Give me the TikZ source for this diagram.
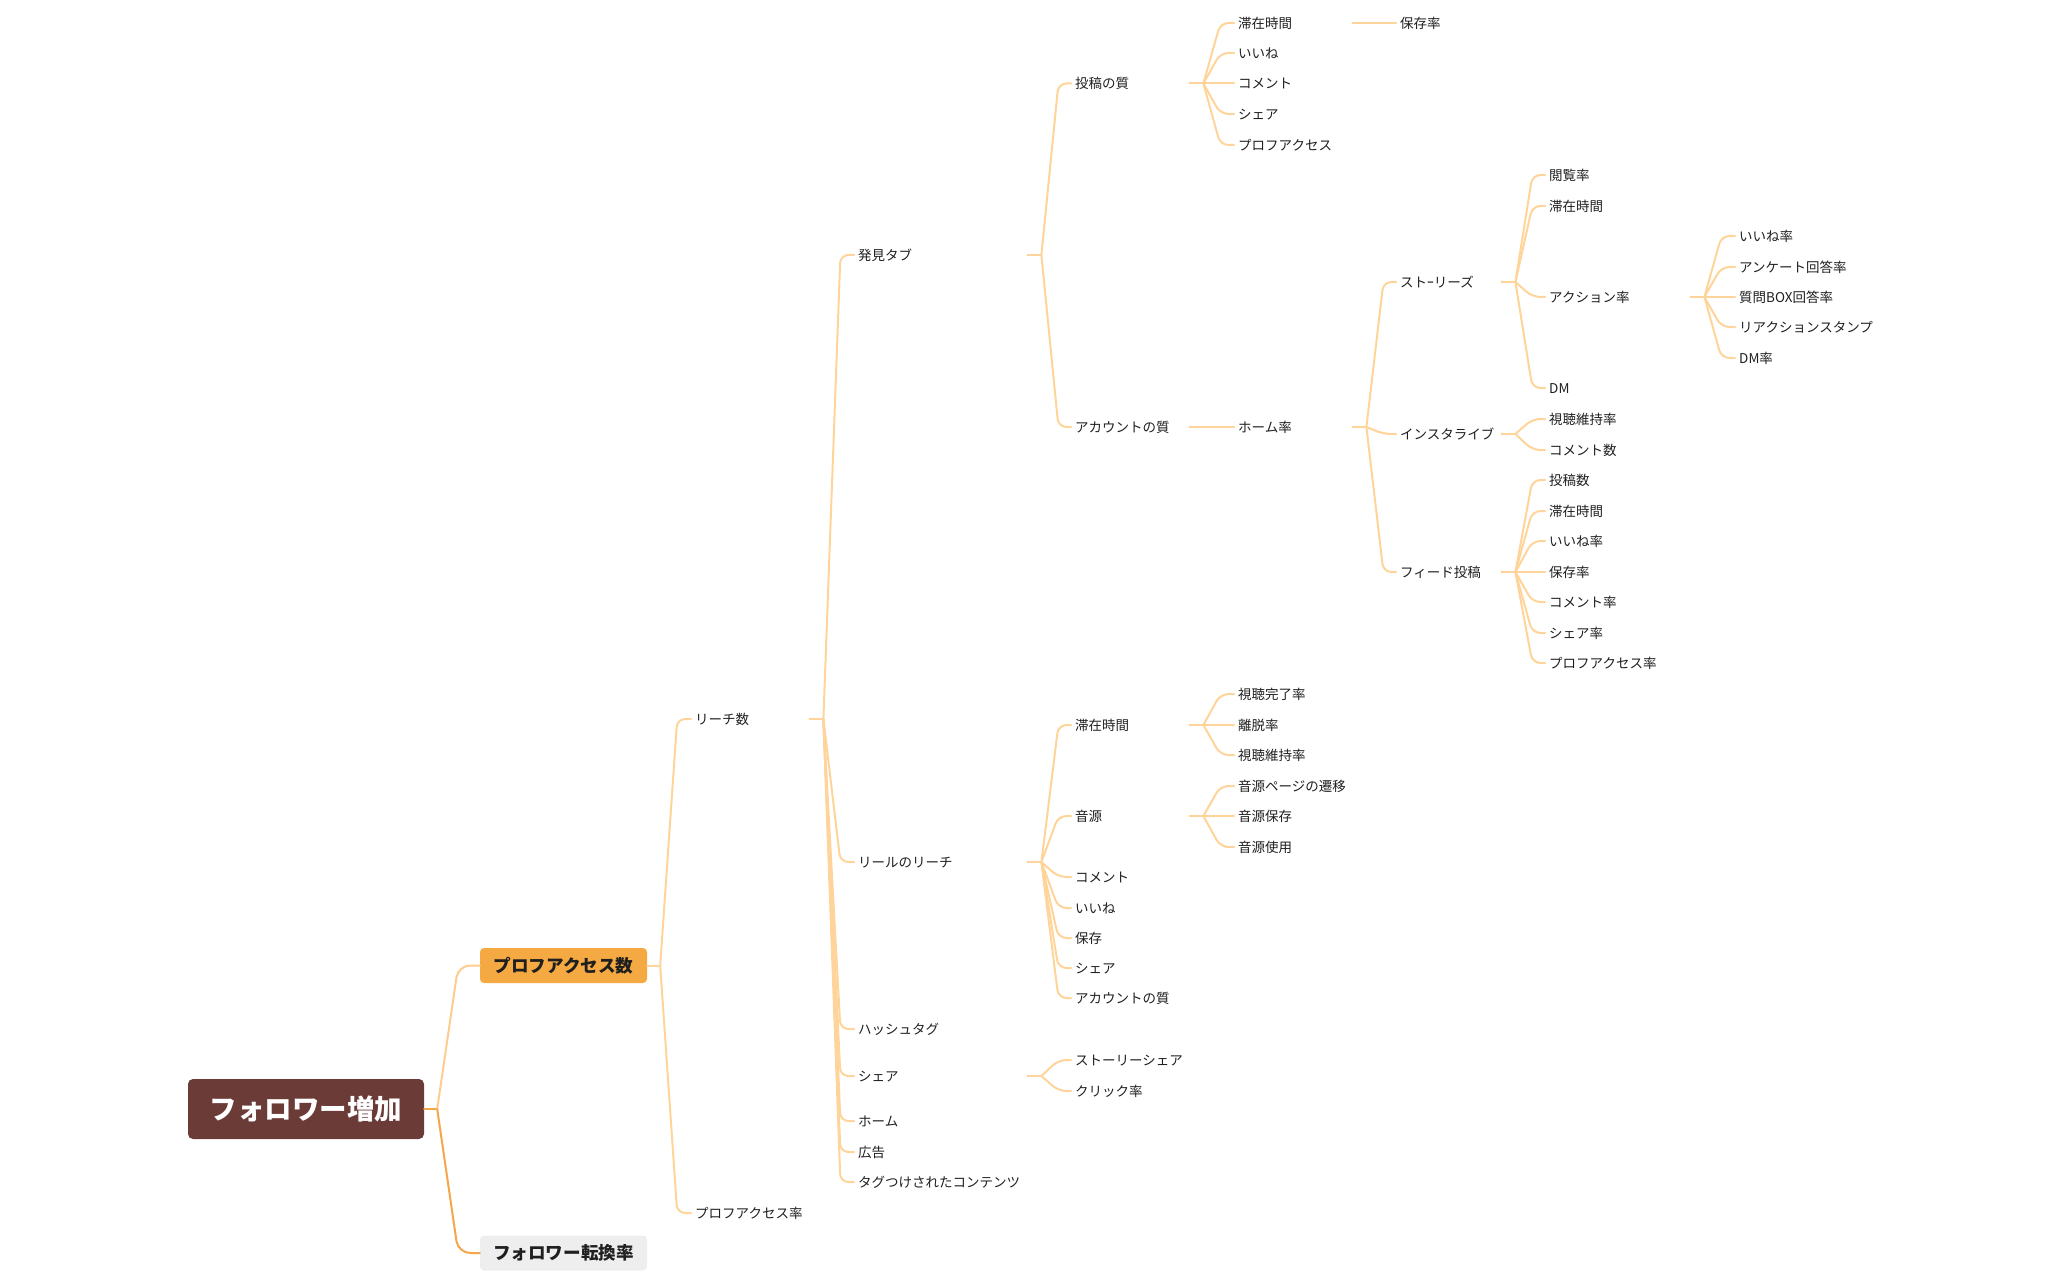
\documentclass[tikz,border=0pt]{standalone}
\usepackage{fontspec}
\setmainfont{Noto Sans CJK JP}
\usetikzlibrary{calc}

\definecolor{rootbrown}{HTML}{6B3B37}
\definecolor{accessorange}{HTML}{F5A942}
\definecolor{convgray}{HTML}{EEEEEE}
\definecolor{linkpeach}{HTML}{FFD49A}
\definecolor{peachsoft}{HTML}{FFCC8F}
\definecolor{rootorange}{HTML}{F6A54A}
\definecolor{inkgray}{HTML}{1F1F1F}

\newcommand\leaffont{\fontsize{13.5}{16}\selectfont}
\newcommand\topfont{\fontsize{17.6}{20}\selectfont\bfseries}
\newcommand\rootfont{\fontsize{27.5}{32}\selectfont\bfseries}

% stub out of a node, then a twig from the stub end to a child
\newcommand\stub[1]{\draw[link] (#1.east) -- ++(14,0) coordinate (#1-b);}
\newcommand\twig[3][17]{\draw[link] (#2) -- ($(#2 |- #3.west)+(#1,0)$) -- (#3.west);}

\tikzset{
  link/.style={draw=linkpeach,line width=2pt,rounded corners=8pt,line cap=round},
  leaf/.style={anchor=west,inner xsep=4pt,inner ysep=0pt,text height=11.9pt,
    text depth=1.6pt,font=\leaffont,text=inkgray},
  lv2/.style={leaf,text width=110pt,align=left},
  lv3/.style={leaf,text width=165pt,align=left},
  lv4/.style={leaf,text width=110pt,align=left},
  lv5/.style={leaf,text width=110pt,align=left},
  lv6/.style={leaf,text width=97pt,align=left},
  lv7/.style={leaf,text width=137pt,align=left},
  lv8/.style={leaf},
  topbox/.style={rounded corners=4pt,minimum width=167pt,minimum height=35pt,
    inner sep=0pt,text height=15.5pt,text depth=2.1pt,font=\topfont,text=inkgray},
  rootbox/.style={fill=rootbrown,text=white,rounded corners=5pt,minimum width=236pt,
    minimum height=60pt,inner sep=0pt,text height=24.2pt,text depth=3.3pt,font=\rootfont}
}

\begin{document}
\begin{tikzpicture}[x=1pt,y=-1pt]
\useasboundingbox (0,0) rectangle (2069,1281);

% main boxes
\node[rootbox] (goal) at (306,1109) {フォロワー増加};
\node[topbox,fill=accessorange] (access) at (563.5,965.5) {プロフアクセス数};
\node[topbox,fill=convgray] (conv) at (563.5,1253) {フォロワー転換率};
\draw[link,draw=rootorange] (goal.east) -- ++(13,0) coordinate (goal-b);
\draw[link,draw=peachsoft,rounded corners=12pt] (goal-b) -- ($(goal-b |- access.west)+(21,0)$) -- (access.west);
\draw[link,draw=rootorange,rounded corners=12pt] (goal-b) -- ($(goal-b |- conv.west)+(21,0)$) -- (conv.west);

% level 2
\draw[link] (access.east) -- ++(13,0) coordinate (access-b);
\foreach \n/\t/\y in {reach/リーチ数/719, prate/プロフアクセス率/1213}
  {\node[lv2] (\n) at (691,\y) {\t}; \twig{access-b}{\n}}

% level 3
\stub{reach}
\foreach \n/\t/\y in {disc/発見タブ/255, reel/リールのリーチ/862, hash/ハッシュタグ/1029,
  share/シェア/1076, home/ホーム/1121, ad/広告/1152, tagged/タグつけされたコンテンツ/1182}
  {\node[lv3] (\n) at (854,\y) {\t}; \twig{reach-b}{\n}}

% level 4
\stub{disc}
\foreach \n/\t/\y in {post/投稿の質/83.5, acct/アカウントの質/427}
  {\node[lv4] (\n) at (1071,\y) {\t}; \twig{disc-b}{\n}}
\stub{reel}
\foreach \n/\t/\y in {rstay/滞在時間/725, sound/音源/816, rcom/コメント/877, rlike/いいね/908,
  rsave/保存/938, rshare/シェア/968, racct/アカウントの質/998}
  {\node[lv4] (\n) at (1071,\y) {\t}; \twig{reel-b}{\n}}
\stub{share}
\foreach \n/\t/\y in {sshare/ストーリーシェア/1060, click/クリック率/1091}
  {\node[lv4] (\n) at (1071,\y) {\t}; \twig{share-b}{\n}}

% level 5
\stub{post}
\foreach \n/\t/\y in {pstay/滞在時間/23, plike/いいね/53, pcom/コメント/83.5,
  pshare/シェア/114, pprof/プロフアクセス/145}
  {\node[lv5] (\n) at (1234,\y) {\t}; \twig{post-b}{\n}}
\node[lv5] (homer) at (1234,427) {ホーム率};
\draw[link] (acct.east) -- (homer.west);
\stub{rstay}
\foreach \n/\t/\y in {comp/視聴完了率/694, leave/離脱率/725, keep/視聴維持率/755}
  {\node[lv5] (\n) at (1234,\y) {\t}; \twig{rstay-b}{\n}}
\stub{sound}
\foreach \n/\t/\y in {spage/音源ページの遷移/786, ssave/音源保存/816, suse/音源使用/847}
  {\node[lv5] (\n) at (1234,\y) {\t}; \twig{sound-b}{\n}}

% level 6
\node[lv6] (psave) at (1396,23) {保存率};
\draw[link] (pstay.east) -- (psave.west);
\stub{homer}
\foreach \n/\t/\y in {story/ストｰリーズ/282, live/インスタライブ/434, feed/フィード投稿/572}
  {\node[lv6] (\n) at (1396,\y) {\t}; \twig{homer-b}{\n}}

% level 7
\stub{story}
\foreach \n/\t/\y in {view/閲覧率/175, sstay/滞在時間/206, action/アクション率/297, sdm/DM/388}
  {\node[lv7] (\n) at (1545,\y) {\t}; \twig{story-b}{\n}}
\stub{live}
\foreach \n/\t/\y in {lkeep/視聴維持率/419, lcom/コメント数/450}
  {\node[lv7] (\n) at (1545,\y) {\t}; \twig{live-b}{\n}}
\stub{feed}
\foreach \n/\t/\y in {fpost/投稿数/480, fstay/滞在時間/511, flike/いいね率/541, fsave/保存率/572,
  fcom/コメント率/602, fshare/シェア率/633, fprof/プロフアクセス率/663}
  {\node[lv7] (\n) at (1545,\y) {\t}; \twig{feed-b}{\n}}

% level 8
\stub{action}
\foreach \n/\t/\y in {alike/いいね率/236, aenq/アンケート回答率/267, abox/質問BOX回答率/297,
  areact/リアクションスタンプ/327, adm/DM率/358}
  {\node[lv8] (\n) at (1735,\y) {\t}; \twig{action-b}{\n}}
\end{tikzpicture}
\end{document}
